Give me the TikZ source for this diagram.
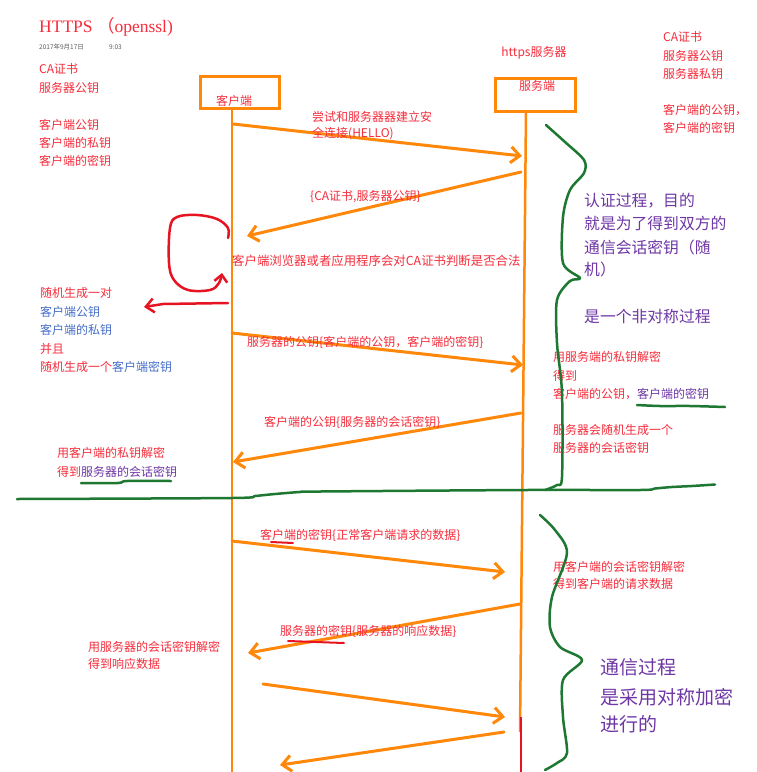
\documentclass[tikz,border=0pt]{standalone}
\usepackage{fontspec}
\setmainfont{Liberation Serif}
\newfontfamily\cjk{Noto Sans CJK SC}
\usetikzlibrary{arrows.meta}
\definecolor{orng}{RGB}{255,135,10}
\definecolor{grn}{RGB}{30,120,50}
\definecolor{rdraw}{RGB}{230,20,35}
\definecolor{txtred}{RGB}{245,45,60}
\definecolor{purp}{RGB}{110,55,165}
\definecolor{blu}{RGB}{70,110,200}
\definecolor{dgray}{RGB}{90,90,90}
\tikzset{
  lbl/.style={inner sep=0pt, anchor=west, text=txtred, font=\cjk\fontsize{12}{14}\selectfont},
  plbl/.style={inner sep=0pt, anchor=west, text=purp, font=\cjk\fontsize{15.8}{18}\selectfont},
  bplbl/.style={inner sep=0pt, anchor=west, text=purp, font=\cjk\fontsize{19}{22}\selectfont},
  boxst/.style={draw=orng, line width=3pt, inner sep=0pt},
  life/.style={draw=orng, line width=2.5pt},
  msg/.style={draw=orng, line width=3pt, line cap=round, -{Straight Barb[length=9pt,width=16pt,line width=3pt]}},
  gline/.style={draw=grn, line width=2.5pt, line cap=round, line join=round},
  rline/.style={draw=rdraw, line width=2.5pt, line cap=round, line join=round},
}
\begin{document}
\begin{tikzpicture}[x=1pt,y=-1pt]
\useasboundingbox[fill=white] (0,0) rectangle (756,772);

% title
\node[inner sep=0pt, anchor=base west, text=txtred, font=\fontsize{17.5}{19}\selectfont] (title) at (39,32) {HTTPS {\cjk （}openssl)};
\node[inner sep=0pt, anchor=west, text=dgray, font=\cjk\fontsize{6.5}{8}\selectfont] (date) at (39,47) {2017年9月17日};
\node[inner sep=0pt, anchor=west, text=dgray, font=\cjk\fontsize{6.5}{8}\selectfont] (time) at (109,47) {9:03};

% left top texts
\node[lbl] (l1) at (39,69) {CA证书};
\node[lbl] (l2) at (39,88) {服务器公钥};
\node[lbl] (l3) at (39,125) {客户端公钥};
\node[lbl] (l4) at (39,143) {客户端的私钥};
\node[lbl] (l5) at (39,161) {客户端的密钥};

% right top texts
\node[lbl] (r1) at (663,37) {CA证书};
\node[lbl] (r2) at (663,56) {服务器公钥};
\node[lbl] (r3) at (663,74) {服务器私钥};
\node[lbl] (r4) at (663,110) {客户端的公钥，};
\node[lbl] (r5) at (663,128) {客户端的密钥};

% boxes
\node[boxst, minimum width=79pt, minimum height=32pt] (cbox) at (239.5,92) {};
\node[lbl, anchor=center] (clabel) at (234,101) {客户端};
\node[boxst, minimum width=80pt, minimum height=33pt] (sbox) at (535,94.5) {};
\node[lbl, anchor=center] (slabel) at (537,86) {服务端};
\node[lbl, anchor=center] (https) at (534,53) {https服务器};

% lifelines
\coordinate (ctop) at (232,108);
\coordinate (cbot) at (232,772);
\coordinate (stop) at (526,111);
\coordinate (sbot) at (520,732);
\coordinate (rtop) at (521,717);
\coordinate (rbot) at (521,772);
\draw[life] (ctop) -- (cbot);
\draw[life] (stop) -- (sbot);
\draw[draw=rdraw, line width=2.5pt] (rtop) -- (rbot);

% messages
\coordinate (m1a) at (233,124); \coordinate (m1b) at (522,156);
\coordinate (m2a) at (521,172); \coordinate (m2b) at (247,236);
\coordinate (m3a) at (232,333); \coordinate (m3b) at (523,365);
\coordinate (m4a) at (521,413); \coordinate (m4b) at (233,462);
\coordinate (m5a) at (232,541); \coordinate (m5b) at (505,572);
\coordinate (m6a) at (520,604); \coordinate (m6b) at (248,653);
\coordinate (m7a) at (263,684); \coordinate (m7b) at (505,717);
\coordinate (m8a) at (504,732); \coordinate (m8b) at (280,765);
\draw[msg] (m1a) -- (m1b);
\draw[msg] (m2a) -- (m2b);
\draw[msg] (m3a) -- (m3b);
\draw[msg] (m4a) -- (m4b);
\draw[msg] (m5a) -- (m5b);
\draw[msg] (m6a) -- (m6b);
\draw[msg] (m7a) -- (m7b);
\draw[msg] (m8a) -- (m8b);

% message labels
\node[lbl] (ml1a) at (312,117) {尝试和服务器器建立安};
\node[lbl] (ml1b) at (312,134) {全连接(HELLO)};
\node[lbl] (ml2) at (310,197) {\{CA证书,服务器公钥\}};
\node[lbl, font=\cjk\fontsize{12.4}{14}\selectfont] (ml3) at (232,261) {客户端浏览器或者应用程序会对CA证书判断是否合法};
\node[lbl] (ml4) at (247,342) {服务器的公钥\{客户端的公钥，客户端的密钥\}};
\node[lbl] (ml5) at (264,422) {客户端的公钥\{服务器的会话密钥\}};
\node[lbl] (ml6) at (260,535) {客户端的密钥\{正常客户端请求的数据\}};
\node[lbl] (ml7) at (280,631) {服务器的密钥\{服务器的响应数据\}};

% red loop and arrow
\draw[rline, -{Straight Barb[length=7pt,width=13pt,line width=2.5pt]}] plot[smooth, tension=0.6] coordinates {(228,238) (228,228) (217,219) (197,215) (177,217) (170,228) (169,263) (174,280) (188,290) (210,290) (219,283) (222,273)};
\coordinate (ra) at (228,303);
\coordinate (rm) at (163,304);
\coordinate (rb) at (144,307);
\draw[rline, -{Straight Barb[length=8pt,width=14pt,line width=2.5pt]}] (ra) -- (rm) -- (rb);

% left mid texts
\node[lbl] (lm1) at (40,293) {随机生成一对};
\node[lbl, text=blu] (lm2) at (40,312) {客户端公钥};
\node[lbl, text=blu] (lm3) at (40,330) {客户端的私钥};
\node[lbl] (lm4) at (40,349) {并且};
\node[lbl] (lm5) at (40,367) {随机生成一个\textcolor{blu}{客户端密钥}};
\node[lbl] (lm6) at (57,453) {用客户端的私钥解密};
\node[lbl] (lm7) at (57,472) {得到\textcolor{purp}{服务器的会话密钥}};

% right mid texts
\node[lbl] (rm1) at (553,357) {用服务端的私钥解密};
\node[lbl] (rm2) at (553,376) {得到};
\node[lbl] (rm3) at (553,394) {客户端的公钥，\textcolor{purp}{客户端的密钥}};
\node[lbl] (rm4) at (553,430) {服务器会随机生成一个};
\node[lbl] (rm5) at (553,448) {服务器的会话密钥};

% purple notes
\node[plbl] (p1) at (584,201) {认证过程，目的};
\node[plbl] (p2) at (584,223) {就是为了得到双方的};
\node[plbl] (p3) at (584,247) {通信会话密钥（随};
\node[plbl] (p4) at (584,269) {机）};
\node[plbl] (p5) at (584,316) {是一个非对称过程};

% bottom texts
\node[lbl] (b1) at (553,567) {用客户端的会话密钥解密};
\node[lbl] (b2) at (553,584) {得到客户端的请求数据};
\node[lbl] (b3) at (88,647) {用服务器的会话密钥解密};
\node[lbl] (b4) at (88,664) {得到响应数据};
\node[bplbl] (bp1) at (600,667) {通信过程};
\node[bplbl] (bp2) at (600,697) {是采用对称加密};
\node[bplbl] (bp3) at (600,724) {进行的};

% underlines
\draw[gline] plot[smooth] coordinates {(637,405) (660,406) (690,406) (725,407)};
\draw[gline] plot[smooth] coordinates {(81,483) (118,483) (127,481) (171,481)};
\draw[rline, line width=2pt] (271,542) -- (293,543);
\draw[rline, line width=2pt] (288,641) -- (344,643);

% green separator
\draw[gline] plot[smooth, tension=0.5] coordinates {(17,499) (232,498) (255,496) (275,494) (300,492) (320,491.5) (526,490) (640,490) (655,488.5) (672,487) (692,486) (715,484.5)};

% braces
\draw[gline] plot[smooth, tension=0.5] coordinates {(546,125) (565,142) (584,160) (584,173) (570,190) (563,217) (563,263) (580,278) (570,281) (557,300) (557,343) (562,393) (562,477) (557,485) (545,490)};
\draw[gline] plot[smooth, tension=0.5] coordinates {(540,515) (555,530) (567,553) (552,597) (550,627) (560,647) (582,660) (563,680) (563,717) (567,753) (557,763) (545,770)};
\end{tikzpicture}
\end{document}
